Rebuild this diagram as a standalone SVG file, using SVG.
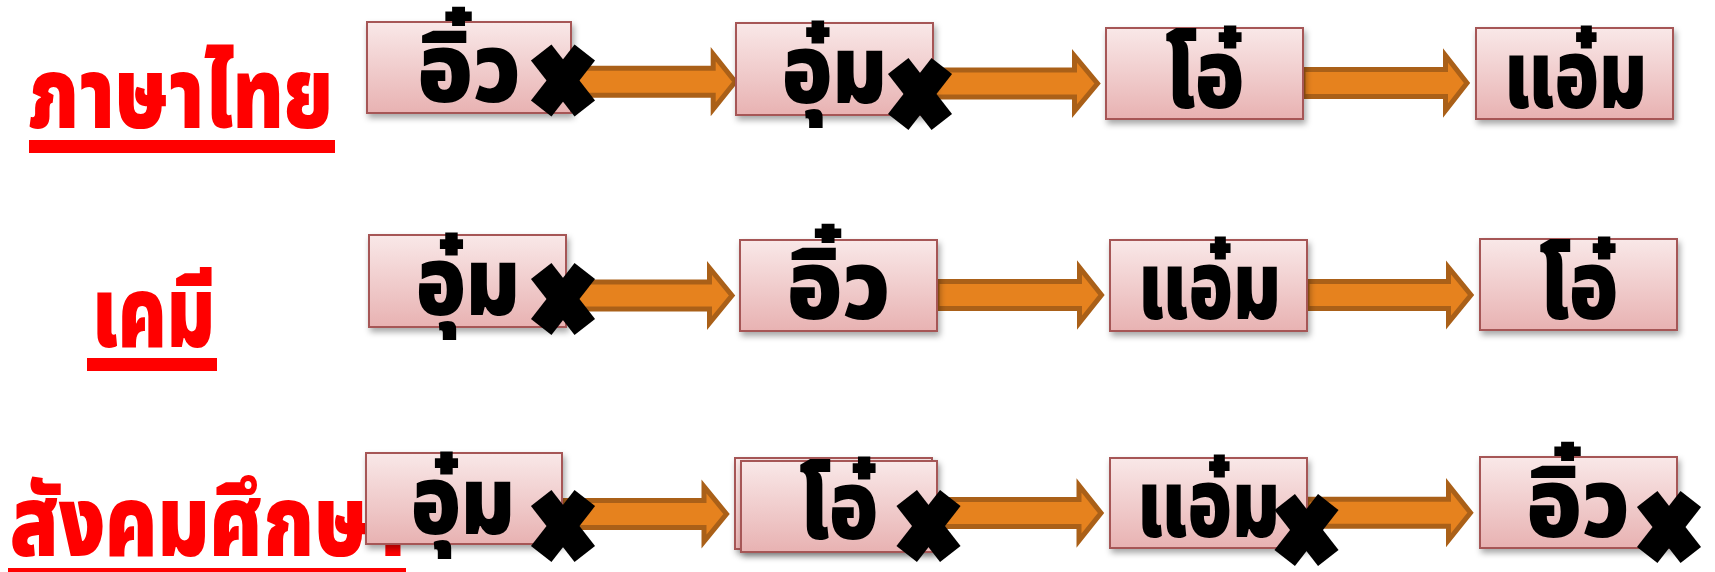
<svg xmlns="http://www.w3.org/2000/svg" xmlns:xlink="http://www.w3.org/1999/xlink" width="1715" height="572" viewBox="0 0 1715 572">
<defs>
<linearGradient id="boxfill" x1="0" y1="0" x2="0" y2="1">
<stop offset="0" stop-color="#F9E8E8"/>
<stop offset="1" stop-color="#E8B2B2"/>
</linearGradient>
<filter id="shadow" x="-10%" y="-10%" width="130%" height="140%">
<feDropShadow dx="2" dy="4" stdDeviation="3" flood-color="#000" flood-opacity="0.35"/>
</filter>
<g id="xmark">
<line x1="-21.8" y1="-27.9" x2="21.8" y2="27.9" stroke="#000" stroke-width="26"/>
<line x1="21.8" y1="-27.9" x2="-21.8" y2="27.9" stroke="#000" stroke-width="26"/>
</g>
</defs>
<style>
.box{fill:url(#boxfill);stroke:#A65656;stroke-width:2;filter:url(#shadow);}
.lbl{font-family:"Noto Sans Thai","Noto Sans","DejaVu Sans",sans-serif;font-weight:900;font-size:96px;fill:#000;text-anchor:middle;}
.title{font-family:"Noto Sans Thai","Noto Sans","DejaVu Sans",sans-serif;font-weight:900;font-size:100px;fill:#FF0000;}
.uline{fill:#FF0000;}
.arrow{fill:#E6821E;stroke:#AA6018;stroke-width:5;stroke-linejoin:miter;}
</style>
<rect width="1715" height="572" fill="#fff"/>

<g id="title-thai"><text class="title" x="28" y="128" textLength="305" lengthAdjust="spacingAndGlyphs">ภาษาไทย</text><rect class="uline" x="29" y="140" width="306" height="13"/></g>
<g id="title-chem"><text class="title" x="92" y="347" textLength="123" lengthAdjust="spacingAndGlyphs">เคมี</text><rect class="uline" x="87" y="358" width="130" height="13"/></g>
<g id="title-social"><text class="title" x="10" y="556" textLength="395" lengthAdjust="spacingAndGlyphs">สังคมศึกษา</text><rect class="uline" x="8" y="568" width="398" height="13"/></g>

<g id="connectors">
<path class="arrow" d="M571,68.2 H713.2 V54.2 L735.2,81.7 L713.2,109.2 V95.2 H571 Z"/>
<path class="arrow" d="M933,70 H1074.5 V56 L1097.5,83.5 L1074.5,111 V97 H933 Z"/>
<path class="arrow" d="M1303,69.5 H1445.5 V55.5 L1467,83 L1445.5,110.5 V96.5 H1303 Z"/>
<path class="arrow" d="M566,282 H709.5 V268 L732,295.5 L709.5,323 V309 H566 Z"/>
<path class="arrow" d="M937,281.5 H1079.5 V267.5 L1101.5,295 L1079.5,322.5 V308.5 H937 Z"/>
<path class="arrow" d="M1307,281.5 H1448.5 V267.5 L1471,295 L1448.5,322.5 V308.5 H1307 Z"/>
<path class="arrow" d="M562,500.5 H704 V486.5 L726.5,514 L704,541.5 V527.5 H562 Z"/>
<path class="arrow" d="M937,499.5 H1079 V485.5 L1101,513 L1079,540.5 V526.5 H937 Z"/>
<path class="arrow" d="M1307,499.2 H1448.5 V485.2 L1470.5,512.7 L1448.5,540.2 V526.2 H1307 Z"/>
</g>

<g id="r1n1"><rect class="box" x="367" y="22" width="204" height="91"/><text class="lbl" x="469" y="102" textLength="103" lengthAdjust="spacingAndGlyphs">อิ๋ว</text></g>
<g id="r1n2"><rect class="box" x="736" y="23" width="197" height="92"/><text class="lbl" x="834.5" y="103" textLength="105" lengthAdjust="spacingAndGlyphs">อุ๋ม</text></g>
<g id="r1n3"><rect class="box" x="1106" y="28" width="197" height="91"/><text class="lbl" x="1204.5" y="108" textLength="79" lengthAdjust="spacingAndGlyphs">โอ๋</text></g>
<g id="r1n4"><rect class="box" x="1476" y="28" width="197" height="91"/><text class="lbl" x="1575.5" y="108" textLength="143" lengthAdjust="spacingAndGlyphs">แอ๋ม</text></g>

<g id="r2n1"><rect class="box" x="369" y="235" width="197" height="92"/><text class="lbl" x="468" y="315" textLength="104" lengthAdjust="spacingAndGlyphs">อุ๋ม</text></g>
<g id="r2n2"><rect class="box" x="740" y="240" width="197" height="91"/><text class="lbl" x="838.5" y="319" textLength="103" lengthAdjust="spacingAndGlyphs">อิ๋ว</text></g>
<g id="r2n3"><rect class="box" x="1110" y="240" width="197" height="91"/><text class="lbl" x="1209.5" y="319" textLength="143" lengthAdjust="spacingAndGlyphs">แอ๋ม</text></g>
<g id="r2n4"><rect class="box" x="1480" y="239" width="197" height="91"/><text class="lbl" x="1578.5" y="319" textLength="79" lengthAdjust="spacingAndGlyphs">โอ๋</text></g>

<g id="r3n1"><rect class="box" x="366" y="453" width="196" height="91"/><text class="lbl" x="463" y="534" textLength="104" lengthAdjust="spacingAndGlyphs">อุ๋ม</text></g>
<g id="r3n2"><rect class="box" x="735" y="458" width="197" height="91"/><rect class="box" x="741" y="461" width="196" height="91"/><text class="lbl" x="838.5" y="539" textLength="79" lengthAdjust="spacingAndGlyphs">โอ๋</text></g>
<g id="r3n3"><rect class="box" x="1110" y="458" width="197" height="90"/><text class="lbl" x="1208.5" y="537" textLength="143" lengthAdjust="spacingAndGlyphs">แอ๋ม</text></g>
<g id="r3n4"><rect class="box" x="1480" y="457" width="197" height="91"/><text class="lbl" x="1578" y="537" textLength="103" lengthAdjust="spacingAndGlyphs">อิ๋ว</text></g>

<g id="crosses">
<use xlink:href="#xmark" x="563" y="80.5"/>
<use xlink:href="#xmark" x="920" y="94"/>
<use xlink:href="#xmark" x="563" y="299"/>
<use xlink:href="#xmark" x="563" y="526"/>
<use xlink:href="#xmark" x="928.5" y="526"/>
<use xlink:href="#xmark" x="1306.5" y="530"/>
<use xlink:href="#xmark" x="1669" y="527"/>
</g>
</svg>
